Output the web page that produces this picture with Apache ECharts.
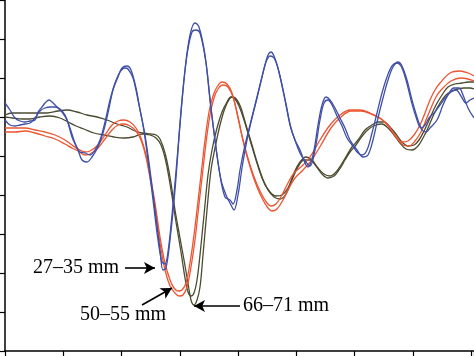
<!DOCTYPE html>
<html>
<head>
<meta charset="utf-8">
<script src="https://cdn.jsdelivr.net/npm/echarts@6/dist/echarts.min.js"></script>
<style>html,body{margin:0;padding:0;background:#fff}#c{width:474px;height:356px}</style>
</head>
<body>
<div id="c"></div>
<script>
// Values (x: sample position, y: displacement, axis inverted)
const blue1X = [5,10,15,20,25,30,35,38,42,46,49,52,57,62,67,72,78,82,87,92,98,103,108,113,118,122,127,131,136,140,145,150,155,160,163,166,170,175,180,185,190,195,199,205,210,215,220,225,230,233,237,240,245,250,255,260,265,268,271,274,278,285,290,295,300,305,308,313,318,322,326,330,335,340,345,350,357,363,368,373,378,383,388,393,398,402,407,412,417,422,426,430,437,443,448,454,459,463,468,474];
const blue1Y = [103,110,118,121,122,121,120,112,107,102,100,102,107,112,120,137,150,160,162,157,147,133,113,90,77,68,66,70,88,110,135,170,210,250,270,268,240,190,125,70,35,23,27,55,100,140,175,197,200,204,190,170,145,125,105,85,65,55,52,56,68,100,125,140,150,163,167,155,125,105,97,100,108,118,128,140,150,157,155,140,118,98,80,67,62,66,80,100,117,130,132,128,120,105,95,88,88,95,108,118];
const blue2X = [5,10,15,20,25,30,35,40,45,50,55,60,65,70,75,80,85,90,95,100,105,110,115,120,125,128,133,138,143,148,153,158,162,165,168,172,177,182,187,192,196,200,206,211,216,221,226,231,234,238,242,247,252,257,262,266,270,274,279,286,291,296,301,306,310,315,320,324,328,332,337,342,347,352,357,362,367,372,377,382,387,392,397,401,406,411,416,421,425,429,435,440,446,451,456,461,466,470,474];
const blue2Y = [120,125,126,125,124,123,118,111,108,107,107,109,115,128,143,152,153,155,150,140,122,100,83,72,68,69,78,100,125,160,200,240,262,264,252,215,160,100,55,32,30,33,63,108,148,180,195,205,210,195,168,140,118,98,77,62,56,58,72,104,128,143,155,162,166,150,120,103,100,105,116,126,138,145,152,155,150,133,113,93,77,66,63,66,80,100,117,128,125,118,112,105,97,92,90,96,103,100,98];
const red1X = [5,15,25,35,45,55,65,72,78,85,90,98,105,112,118,124,130,136,141,146,150,155,160,165,170,174,178,182,186,190,194,197,201,205,209,213,217,222,227,232,237,243,250,256,262,267,271,276,282,288,294,302,310,320,330,340,350,360,370,380,388,395,402,408,414,420,425,430,435,440,450,460,468,474];
const red1Y = [128,128,128,130,132,135,140,145,149,152,151,145,135,125,121,120,122,128,138,155,175,203,237,263,280,288,291,290,283,263,235,210,175,140,112,96,87,82,84,93,113,140,165,182,195,203,206,204,195,183,173,166,157,140,125,115,110,110,113,118,125,135,142,141,135,125,113,100,90,83,73,71,73,76];
const red2X = [5,15,25,35,45,55,65,72,78,85,90,98,105,112,118,124,130,136,141,146,150,155,160,165,170,175,179,183,187,191,195,198,202,206,210,214,218,223,228,233,238,244,251,257,263,268,272,277,283,289,295,303,311,321,331,341,351,361,371,381,389,396,403,409,415,421,426,431,436,441,451,461,468,474];
const red2Y = [132,132,131,133,136,139,144,148,151,155,154,148,139,130,125,124,126,131,140,157,178,207,243,270,286,293,296,295,287,267,240,213,178,143,115,98,89,85,87,97,117,145,170,187,200,208,211,209,200,188,178,170,161,145,128,117,111,111,114,119,127,137,145,146,141,132,120,108,97,90,81,78,79,81];
const olive1X = [5,12,20,33,47,58,67,77,87,97,107,117,127,135,143,150,156,160,165,170,175,180,184,188,191,194,197,200,203,207,211,215,220,225,230,233,237,241,246,252,258,264,270,276,282,288,294,300,306,312,318,324,330,336,341,347,352,358,365,372,378,384,390,396,402,408,414,419,424,430,436,442,448,455,462,468,474];
const olive1Y = [115,113,113,113,113,111,110,112,115,117,120,124,127,131,133,134,135,139,153,177,210,238,260,283,300,305,300,287,255,210,170,148,125,108,98,97,100,108,125,145,165,182,192,196,195,188,173,162,157,160,168,174,176,172,165,155,147,140,130,125,122,122,127,134,142,146,145,140,131,118,105,95,87,84,83,82,82];
const olive2X = [5,13,22,30,40,50,60,68,76,84,94,104,114,124,133,142,150,156,161,166,171,176,181,185,188,191,194,197,200,204,208,212,217,222,227,231,235,239,244,250,256,262,268,274,280,286,292,298,304,310,316,322,328,334,339,345,350,356,363,370,376,382,388,394,400,406,412,418,423,428,434,440,446,452,458,464,470,474];
const olive2Y = [117,118,119,119,117,116,118,122,126,129,133,135,137,138,137,134,135,138,145,162,190,222,252,278,292,296,293,280,255,215,175,150,128,112,102,97,99,106,120,140,160,178,190,197,199,194,180,167,160,160,166,174,178,176,170,160,152,145,135,128,125,124,128,135,143,149,150,146,138,128,114,103,95,91,89,88,88,89];

// Annotations: label text and arrow endpoints (data coordinates)
const labels = ['27–35 mm', '50–55 mm', '66–71 mm'];
const arrowFrom = [[125,268],[142,305],[240,306]];
const arrowTo = [[155,268],[172,288],[194,306]];

const BLUE = '#3f4fa6', RED = '#ec5532', OLIVE = '#4b4b30';
function pairs(xs, ys){ return xs.map((x,i)=>[x, ys[i]]); }
function lineSeries(name, xs, ys, color){
  return {name, type:'line', data:pairs(xs,ys), showSymbol:false, smooth:0.35,
    lineStyle:{color, width:1.3}, itemStyle:{color}, z:2};
}
const series = [
  lineSeries('olive1', olive1X, olive1Y, OLIVE),
  lineSeries('olive2', olive2X, olive2Y, OLIVE),
  lineSeries('red1', red1X, red1Y, RED),
  lineSeries('red2', red2X, red2Y, RED),
  lineSeries('blue1', blue1X, blue1Y, BLUE),
  lineSeries('blue2', blue2X, blue2Y, BLUE)
];
series.push({
  type:'line', data:[], silent:true,
  markLine:{silent:true, symbol:['none','arrow'], symbolSize:[9,11], animation:false,
    lineStyle:{color:'#000', width:1.6, type:'solid'}, label:{show:false},
    data: arrowFrom.map((f,i)=>[{coord:f},{coord:arrowTo[i]}])}
});

const chart = echarts.init(document.getElementById('c'), null, {renderer:'canvas'});
chart.setOption({
  animation:false,
  backgroundColor:'#fff',
  grid:{left:5, top:0, width:469, height:351, containLabel:false},
  xAxis:{type:'value', min:5, max:474, interval:58.25,
    axisLine:{show:true, onZero:false, lineStyle:{color:'#000', width:1.5}},
    axisTick:{show:true, inside:false, length:5, lineStyle:{color:'#000', width:1.2}},
    axisLabel:{show:false}, splitLine:{show:false}},
  yAxis:{type:'value', inverse:true, min:0, max:351, interval:39,
    axisLine:{show:true, onZero:false, lineStyle:{color:'#000', width:1.5}},
    axisTick:{show:true, inside:false, length:5, lineStyle:{color:'#000', width:1.2}},
    axisLabel:{show:false}, splitLine:{show:false}},
  series
});

// Text labels placed next to the arrow tails
const p0 = chart.convertToPixel({gridIndex:0}, [119, 268]);
const p1 = chart.convertToPixel({gridIndex:0}, [80, 315]);
const p2 = chart.convertToPixel({gridIndex:0}, [243, 306]);
const font = '20px "Liberation Serif", "DejaVu Serif", serif';
chart.setOption({graphic:[
  {type:'text', x:p0[0], y:p0[1], style:{text:labels[0], font, fill:'#000', align:'right', verticalAlign:'middle'}},
  {type:'text', x:p1[0], y:p1[1], style:{text:labels[1], font, fill:'#000', align:'left', verticalAlign:'middle'}},
  {type:'text', x:p2[0], y:p2[1], style:{text:labels[2], font, fill:'#000', align:'left', verticalAlign:'middle'}}
]});
</script>
</body>
</html>
